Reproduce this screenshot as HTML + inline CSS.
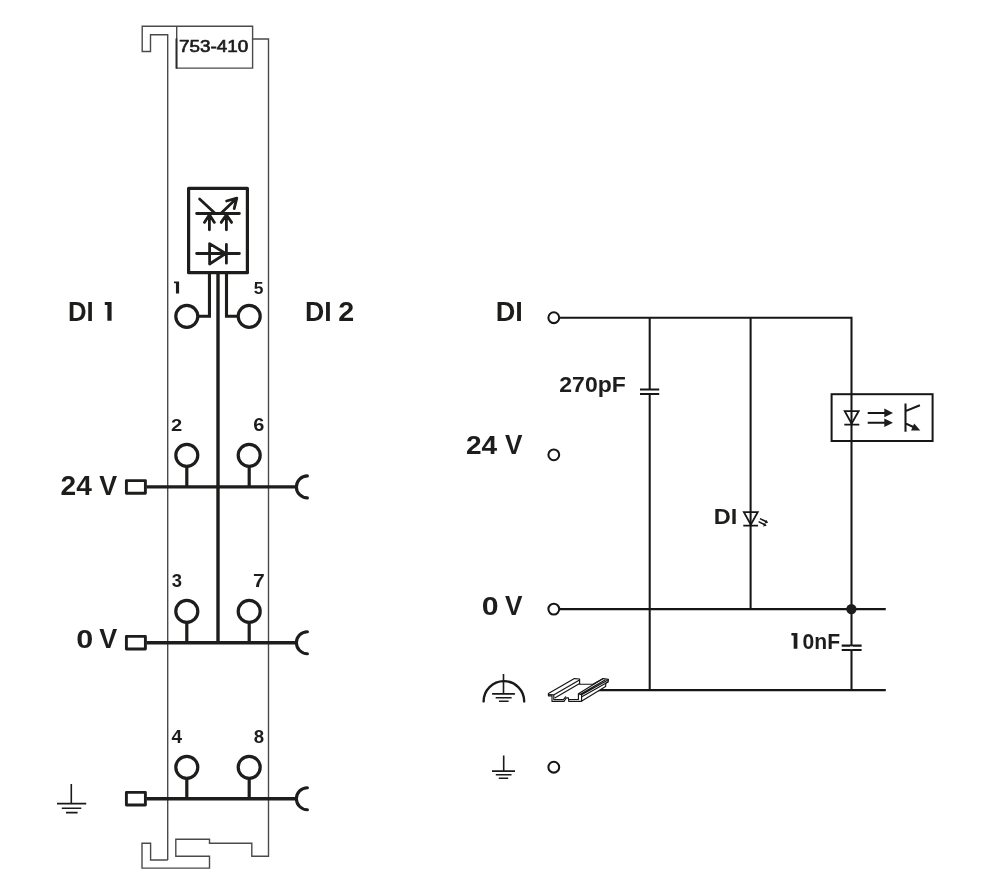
<!DOCTYPE html>
<html><head><meta charset="utf-8">
<style>
html,body{margin:0;padding:0;background:#fff;}
body{width:1000px;height:895px;overflow:hidden;font-family:"Liberation Sans",sans-serif;}
svg{display:block;}
text{font-family:"Liberation Sans",sans-serif;font-weight:bold;fill:#1d1d1b;}
.m{fill:none;stroke:#4a4a4a;stroke-width:1.4;}
.k{fill:none;stroke:#1d1d1b;stroke-width:3.4;}
.k2{fill:none;stroke:#1d1d1b;stroke-width:2.8;stroke-linecap:round;stroke-linejoin:round;}
.t{fill:none;stroke:#161616;stroke-width:2.05;}
.g{fill:none;stroke:#1a1a1a;stroke-width:1.6;}
.f{fill:#1d1d1b;stroke:none;}
</style></head><body>
<svg width="1000" height="895" viewBox="0 0 1000 895">
<rect width="1000" height="895" fill="#fff"/>

<!-- module outline -->
<path class="m" d="M167.7 860 V34.8 H150.5 V51.5 H142.2 V26.2 H252.6 V39 H268.5 V856.3 H251.8 V843.3 H209.5 V839.2 H175.8 V856.3 H209.5 V868.1 H142 V843.3 H150.6 V860 H167.7"/>
<path class="m" d="M176.7 26.2 V68.1 H252.6 V39"/>
<path d="M176.4 38.5 V68.6" stroke="#2a2a2a" stroke-width="1.8" fill="none"/>
<!-- symbol box -->
<rect class="k" x="188.6" y="188.4" width="58.8" height="84.3" style="stroke-width:3.2;stroke-linejoin:round"/>
<path class="k2" d="M196.6 213.5 H239.4 M199.6 199 L214.4 212.8 M221.6 212.8 L236.4 198.6 M226.6 201 L236.8 198.2 L234.2 208.6 M209.4 229.8 V215 M204.4 222.4 L209.4 214.8 L214.4 222.4 M226.4 229.8 V215 M221.2 222.4 L226.4 214.8 L231.6 222.4"/>
<path class="k2" d="M196.6 253.5 H239.4 M209.6 243.6 V264 L225.6 253.5 Z M226.4 244.4 V263.2"/>
<path class="k" d="M218 272.7 V642.7" />
<path class="k2" d="M209.45 273 V316.2 H197.5 M226.5 273 V316.2 H238.4" style="stroke-linecap:butt;stroke-linejoin:miter;stroke-width:3.1"/>
<circle class="k" cx="186.8" cy="316.3" r="11" style="stroke-width:3.2"/>
<circle class="k" cx="186.8" cy="455.3" r="11" style="stroke-width:3.2"/>
<circle class="k" cx="186.8" cy="611.4" r="11" style="stroke-width:3.2"/>
<circle class="k" cx="186.8" cy="767.3" r="11" style="stroke-width:3.2"/>
<path class="k" d="M186.8 466.3 V486.9" style="stroke-width:3.2"/>
<path class="k" d="M186.8 622.4 V642.7" style="stroke-width:3.2"/>
<path class="k" d="M186.8 778.3 V798.7" style="stroke-width:3.2"/>
<circle class="k" cx="249.2" cy="316.3" r="11" style="stroke-width:3.2"/>
<circle class="k" cx="249.2" cy="455.3" r="11" style="stroke-width:3.2"/>
<circle class="k" cx="249.2" cy="611.4" r="11" style="stroke-width:3.2"/>
<circle class="k" cx="249.2" cy="767.3" r="11" style="stroke-width:3.2"/>
<path class="k" d="M249.2 466.3 V486.9" style="stroke-width:3.2"/>
<path class="k" d="M249.2 622.4 V642.7" style="stroke-width:3.2"/>
<path class="k" d="M249.2 778.3 V798.7" style="stroke-width:3.2"/>
<path class="k" d="M146.5 486.9 H296.4"/>
<rect class="k" x="126.4" y="480.59999999999997" width="19" height="12.6" style="stroke-width:2.9;stroke-linejoin:round"/>
<path class="k" d="M307.4 475.9 A11 11 0 0 0 307.4 497.9" style="stroke-linecap:round;stroke-width:3.1"/>
<path class="k" d="M146.5 642.7 H296.4"/>
<rect class="k" x="126.4" y="636.4000000000001" width="19" height="12.6" style="stroke-width:2.9;stroke-linejoin:round"/>
<path class="k" d="M307.4 631.7 A11 11 0 0 0 307.4 653.7" style="stroke-linecap:round;stroke-width:3.1"/>
<path class="k" d="M146.5 798.7 H296.4"/>
<rect class="k" x="126.4" y="792.4000000000001" width="19" height="12.6" style="stroke-width:2.9;stroke-linejoin:round"/>
<path class="k" d="M307.4 787.7 A11 11 0 0 0 307.4 809.7" style="stroke-linecap:round;stroke-width:3.1"/>
<path class="g" d="M71.3 784 V803.6 M57 803.6 H86.2 M61.8 808.2 H81.3 M66 812.6 H77.6"/>
<!-- circuit -->
<path class="t" d="M559.5 317.7 H851.5 V690.1 M649.7 317.7 V389.4 M649.7 394 V690.1 M750.6 317.7 V609.1 M559.5 609.1 H885.8 M597 690.1 H885.8"/>
<path class="t" d="M640 389.4 H659.2 M640 394 H659.2 M841.7 645.6 H861.6 M841.7 650 H861.6"/>
<path d="M850 646.4 h3 v2.7 h-3z" fill="#fff"/>
<circle class="f" cx="851.4" cy="609.1" r="5.2"/>
<circle class="t" cx="553.8" cy="317.7" r="5.4" fill="#fff"/>
<circle class="t" cx="553.8" cy="454.8" r="5.4" fill="#fff"/>
<circle class="t" cx="553.8" cy="609.1" r="5.4" fill="#fff"/>
<circle class="t" cx="553.8" cy="767.2" r="5.4" fill="#fff"/>
<rect x="831.6" y="394.2" width="101" height="46.8" fill="#fff" stroke="#161616" stroke-width="2"/>
<path class="t" d="M851.5 394 V441"/>
<path class="t" style="stroke-width:1.75" d="M844.7 411 H858.7 L851.6 423.6 Z M844.3 424.6 H859.3"/>
<path class="t" d="M867.7 412.9 H886 M867.7 422.7 H886"/>
<path class="f" d="M884.3 408.6 L893 412.9 L884.3 417.2 Z M884.3 418.4 L893 422.7 L884.3 427 Z"/>
<path class="t" d="M905.5 403.5 V431.8 M905.5 411.1 L919.9 405.2 M905.5 423.4 L915 427.8"/>
<path class="f" d="M920.3 430.6 L911 430.4 L914.2 423.6 Z"/>
<path class="t" style="stroke-width:1.8" d="M743.9 512.2 H757.7 L750.8 524.6 Z M743.3 525.6 H758"/>
<path class="t" style="stroke-width:1.6" d="M760 518.6 L766.5 521.8 M758.6 521.6 L765 524.8"/>
<path class="f" d="M768.2 522.7 L764.6 523.4 L766.4 519.9 Z M766.6 525.7 L763 526.4 L764.8 522.9 Z"/>
<path class="g" style="stroke-width:2.4;stroke-linecap:round" d="M483.6 701.4 A20.3 20.3 0 0 1 524.2 701.4"/>
<path class="g" d="M503.5 674 V693.9 M492.1 693.9 H514.9 M495.7 697.8 H511.6 M499 701.3 H508.6"/>
<path class="g" d="M503.7 755.5 V771.1 M492 771.1 H515 M495.8 774.8 H511.5 M498.8 778.3 H508.2"/>
<g fill="#fff" stroke="#161616" stroke-width="1.15" stroke-linejoin="round" stroke-linecap="round">
<path d="M548.4 693.4 L574.4 678.6 L579.6 679 L579.6 684.2 L592.8 684.2 L603.2 678.6 L608.4 679.4 L608.2 681.8 L605.8 683 L605.6 686.6 L581 701.4 L568.8 701.4 L568.4 697.8 L566.4 697.8 L564 701.4 L552 701.4 L552 695.8 L548.4 695.8 Z"/>
<path fill="none" d="M548.6 694.6 L553.6 694.9 L578.6 680.4 M553.8 695.2 V699.6 H563.4 L565.6 696.8 M555.2 697.8 L579.6 683.6 M578.4 693.8 L603.2 678.6 M578.4 693.8 V699.5 H569 M578.4 693.8 L581.6 694.8 L608.4 679.8 M581.6 694.8 V701 M581.8 696.8 L608 682 M580 694.6 L605 680"/>
</g>
<defs><filter id="gs" x="0" y="0" width="1000" height="895" filterUnits="userSpaceOnUse"><feOffset dx="0" dy="0"/></filter></defs><g filter="url(#gs)">
<text x="178.96" y="52.05" font-size="17.07" textLength="69.17" lengthAdjust="spacingAndGlyphs" style="font-weight:normal;stroke:#1d1d1b;stroke-width:0.7">753-410</text>
<text x="68.03" y="320.8" font-size="27.35" textLength="25.74" lengthAdjust="spacingAndGlyphs">DI</text>
<text x="304.97" y="320.8" font-size="27.35" textLength="26.67" lengthAdjust="spacingAndGlyphs">DI</text>
<text x="338.32" y="320.8" font-size="26.86" textLength="15.95" lengthAdjust="spacingAndGlyphs">2</text>
<text x="60.55" y="494.7" font-size="26.71" textLength="31.23" lengthAdjust="spacingAndGlyphs">24</text>
<text x="99.33" y="494.7" font-size="27.2" textLength="17.86" lengthAdjust="spacingAndGlyphs">V</text>
<text x="76.36" y="647.8" font-size="26.57" textLength="16.98" lengthAdjust="spacingAndGlyphs">0</text>
<text x="99.33" y="647.8" font-size="27.05" textLength="17.96" lengthAdjust="spacingAndGlyphs">V</text>
<text x="495.73" y="320.6" font-size="27.05" textLength="27.13" lengthAdjust="spacingAndGlyphs">DI</text>
<text x="465.95" y="453.8" font-size="26.57" textLength="31.23" lengthAdjust="spacingAndGlyphs">24</text>
<text x="505.04" y="453.8" font-size="27.05" textLength="17.45" lengthAdjust="spacingAndGlyphs">V</text>
<text x="481.66" y="614.8" font-size="26.29" textLength="16.86" lengthAdjust="spacingAndGlyphs">0</text>
<text x="505.04" y="614.8" font-size="26.76" textLength="17.45" lengthAdjust="spacingAndGlyphs">V</text>
<text x="559.34" y="391.8" font-size="22.29" textLength="66.44" lengthAdjust="spacingAndGlyphs">270pF</text>
<text x="802.61" y="648.8" font-size="22.57" textLength="37.52" lengthAdjust="spacingAndGlyphs">0nF</text>
<text x="713.88" y="523.8" font-size="22.69" textLength="23.54" lengthAdjust="spacingAndGlyphs">DI</text>
<text x="171.04" y="430.9" font-size="17.0" textLength="11.21" lengthAdjust="spacingAndGlyphs">2</text>
<text x="253.15" y="430.9" font-size="17.57" textLength="11.1" lengthAdjust="spacingAndGlyphs">6</text>
<text x="171.74" y="586.8" font-size="17.71" textLength="10.25" lengthAdjust="spacingAndGlyphs">3</text>
<text x="252.98" y="586.8" font-size="17.75" textLength="11.75" lengthAdjust="spacingAndGlyphs">7</text>
<text x="171.56" y="742.6" font-size="18.47" textLength="10.56" lengthAdjust="spacingAndGlyphs">4</text>
<text x="253.72" y="742.6" font-size="18.14" textLength="10.36" lengthAdjust="spacingAndGlyphs">8</text>
<text x="253.76" y="293.5" font-size="17.31" textLength="9.69" lengthAdjust="spacingAndGlyphs">5</text>
</g>
<path class="f" d="M104.8 302 H111.6 V320.8 H107.38 V305.01 H104.8 Z"/>
<path class="f" d="M174 281.4 H179.1 V293.5 H175.94 V283.34 H174 Z"/>
<path class="f" d="M791.4 633 H797.4 V648.8 H793.68 V635.53 H791.4 Z"/>
</svg>
</body></html>
